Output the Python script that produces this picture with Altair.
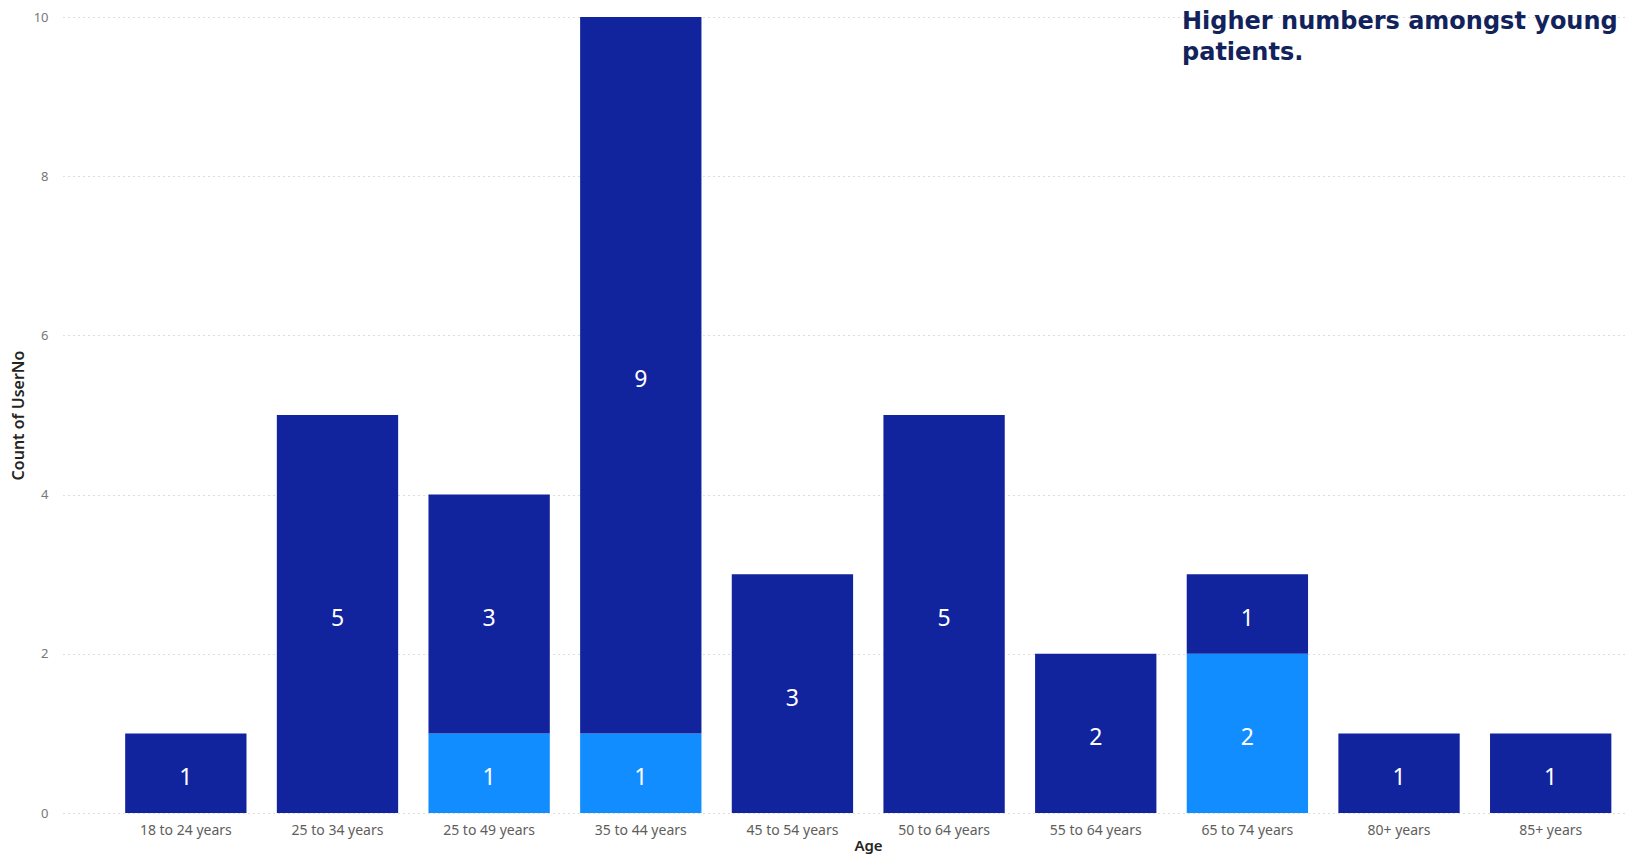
import altair as alt
import pandas as pd

ages = ["18 to 24 years", "25 to 34 years", "25 to 49 years", "35 to 44 years",
        "45 to 54 years", "50 to 64 years", "55 to 64 years", "65 to 74 years",
        "80+ years", "85+ years"]
light_counts = [0, 0, 1, 1, 0, 0, 0, 2, 0, 0]
dark_counts = [1, 5, 3, 9, 3, 5, 2, 1, 1, 1]
series_names = ["Light", "Dark"]
series_colors = ["#118DFF", "#12239E"]
y_ticks = [0, 2, 4, 6, 8, 10]
note_lines = ["Higher numbers amongst young", "patients."]

rows = []
for i, a in enumerate(ages):
    for s_idx, (name, vals) in enumerate(zip(series_names, [light_counts, dark_counts])):
        if vals[i] > 0:
            rows.append({"Age": a, "Series": name, "Count": vals[i], "order": s_idx})
df = pd.DataFrame(rows)

base = alt.Chart(df).transform_stack(
    stack="Count", groupby=["Age"], as_=["y0", "y1"],
    sort=[alt.SortField("order", order="ascending")]
).transform_calculate(mid="(datum.y0 + datum.y1) / 2")

x_enc = alt.X(
    "Age:N", sort=ages, title="Age",
    scale=alt.Scale(paddingInner=0.2, paddingOuter=0.25, align=0.82),
    axis=alt.Axis(domain=False, ticks=False, grid=False, labelAngle=0,
                  labelPadding=10, labelFont="Noto Sans", labelFontSize=14,
                  labelColor="#605E5C", titleFont="Noto Sans", titleFontSize=15,
                  titleFontWeight=600, titleColor="#252423",
                  titleX=805, titleY=37, titleBaseline="alphabetic"),
)

bars = base.mark_bar().encode(
    x=x_enc,
    y=alt.Y("y0:Q", scale=alt.Scale(domain=[0, 10], nice=False),
            axis=alt.Axis(values=y_ticks, format="d", grid=True, gridDash=[1, 4],
                          gridColor="#BDBBB9", gridWidth=1, domain=False, ticks=False,
                          labelPadding=15, labelFont="Noto Sans", labelFontSize=13,
                          labelColor="#777777", title="Count of UserNo",
                          titleFont="Noto Sans", titleFontSize=16, titleFontWeight=600,
                          titleColor="#252423", titlePadding=7)),
    y2="y1:Q",
    color=alt.Color("Series:N", scale=alt.Scale(domain=series_names, range=series_colors),
                    legend=None),
)

labels = base.mark_text(color="white", font="Noto Sans", fontSize=23,
                        baseline="middle", align="center", dy=5).encode(
    x=alt.X("Age:N", sort=ages),
    y=alt.Y("mid:Q"),
    text=alt.Text("Count:Q"),
)

note = alt.Chart(pd.DataFrame({"k": [0]})).mark_text(
    text=note_lines, align="left", baseline="alphabetic", font="DejaVu Sans",
    fontWeight="bold", fontSize=24, lineHeight=31, color="#12235C",
).encode(x=alt.value(1119), y=alt.value(12))

chart = alt.layer(bars, labels, note).properties(
    width=1562, height=796,
    autosize=alt.AutoSizeParams(type="none"),
    padding={"left": 55, "top": 9, "right": 0, "bottom": 41},
).configure_view(stroke=None)

chart.save("out.html", embed_options={"renderer": "svg", "actions": False})
